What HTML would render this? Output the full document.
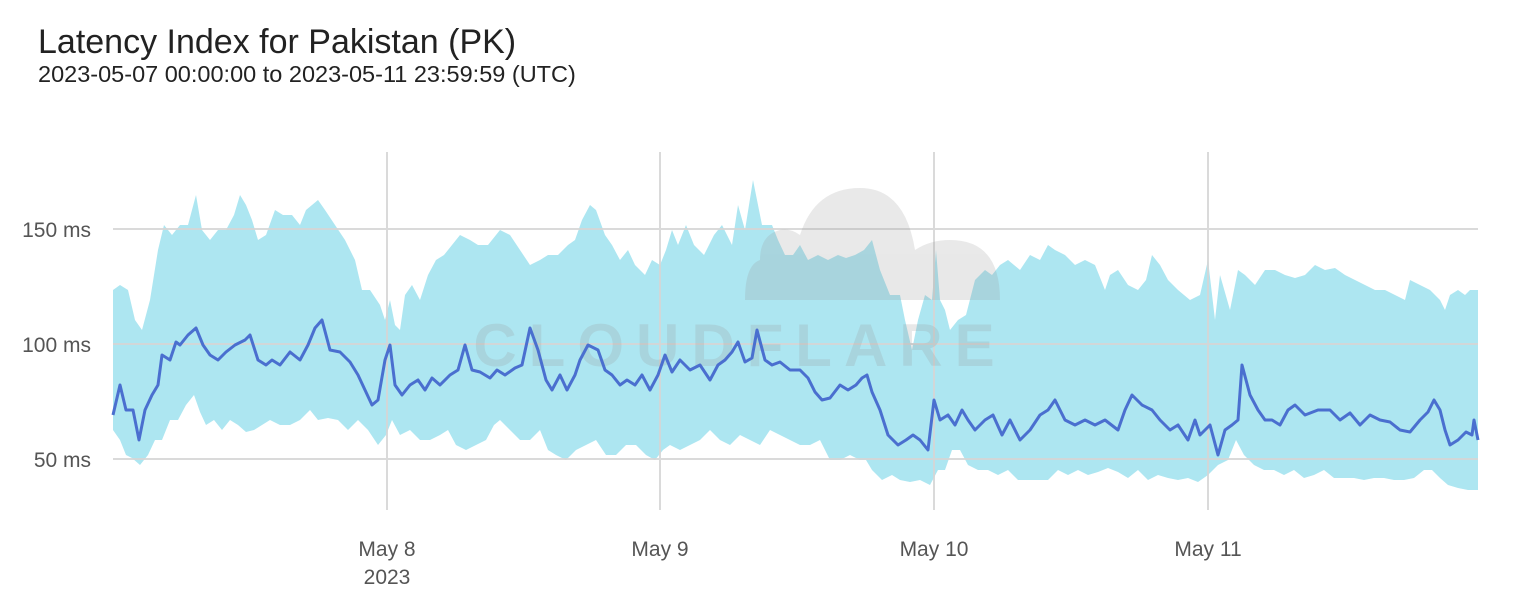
<!DOCTYPE html>
<html><head><style>
body{margin:0;background:#fff;font-family:"Liberation Sans",sans-serif;}
</style></head><body>
<svg width="1514" height="596" xmlns="http://www.w3.org/2000/svg" style="display:block">
<text x="38" y="53" font-size="34" fill="#222" font-family="Liberation Sans">Latency Index for Pakistan (PK)</text>
<text x="38" y="82" font-size="23.5" fill="#222" font-family="Liberation Sans">2023-05-07 00:00:00 to 2023-05-11 23:59:59 (UTC)</text>
<polygon fill="#ade6f1" points="113,290 120,285 128,290 135,320 142,330 150,300 158,250 164,225 172,235 180,225 188,225 196,195 202,230 210,240 218,230 226,230 234,215 240,195 246,205 252,220 258,240 266,235 275,210 283,215 292,215 300,225 306,210 312,205 318,200 325,210 335,225 345,240 355,260 362,290 370,290 380,305 385,320 390,300 395,325 400,330 405,295 412,285 420,300 428,275 436,260 444,255 452,245 460,235 470,240 478,245 488,245 500,230 510,235 520,250 530,265 540,260 548,255 558,255 568,245 575,240 582,220 590,205 596,210 605,235 612,245 620,260 628,250 635,265 645,275 652,260 660,265 666,250 672,230 678,245 686,225 694,245 704,255 714,235 722,225 732,245 738,205 745,230 753,180 762,225 772,225 778,240 785,255 793,255 800,245 808,260 818,255 828,260 838,255 846,258 855,255 864,250 872,240 880,270 890,295 900,295 905,320 912,350 918,320 925,295 932,300 936,250 940,300 945,310 950,330 958,320 966,315 975,280 985,270 992,275 1000,265 1008,260 1020,270 1030,255 1040,260 1048,245 1055,250 1065,255 1075,265 1085,260 1095,265 1105,290 1110,275 1118,270 1128,285 1138,290 1146,280 1152,255 1160,265 1168,280 1178,290 1190,300 1200,295 1208,260 1215,320 1220,275 1230,310 1238,270 1245,275 1255,285 1265,270 1275,270 1285,275 1295,278 1305,275 1315,265 1325,270 1335,268 1345,275 1355,280 1365,285 1375,290 1385,290 1395,295 1405,300 1410,280 1420,285 1430,290 1440,300 1445,310 1450,295 1458,290 1465,295 1470,290 1478,290 1478,490 1468,490 1458,488 1448,485 1440,478 1432,470 1424,470 1414,478 1404,480 1394,480 1384,478 1374,478 1364,480 1354,478 1344,478 1334,478 1324,470 1314,475 1304,478 1294,470 1284,475 1274,470 1264,470 1254,465 1244,455 1236,440 1228,460 1218,465 1208,475 1198,482 1188,478 1178,480 1168,478 1158,475 1148,480 1138,470 1128,478 1118,472 1108,468 1098,472 1088,475 1078,470 1068,475 1058,470 1048,480 1038,480 1028,480 1018,480 1008,470 998,475 988,470 978,470 968,465 960,450 952,450 945,470 938,470 930,485 920,480 910,482 900,480 892,475 882,480 872,470 866,460 860,460 850,455 840,460 830,460 820,440 810,445 800,445 790,440 780,435 770,430 760,445 750,440 740,435 730,445 720,440 710,430 700,440 690,445 680,450 670,445 663,450 655,460 646,455 636,445 626,445 616,455 606,455 596,440 586,445 576,450 566,460 556,455 548,450 540,430 530,440 520,440 510,430 500,420 494,425 486,440 476,445 466,450 456,445 448,430 440,435 430,440 420,440 410,430 400,435 392,420 386,435 378,445 368,430 358,420 348,430 338,420 328,418 318,420 310,410 300,420 290,425 280,425 270,420 262,425 254,430 246,432 238,425 230,420 222,430 214,420 206,425 200,412 194,395 186,405 178,420 170,420 162,440 155,440 148,455 140,465 132,458 126,455 120,440 113,430"/>
<g stroke="#d6d6d6" stroke-width="2" opacity="0.9">
<line x1="113" y1="229" x2="1478" y2="229"/><line x1="113" y1="344" x2="1478" y2="344"/><line x1="113" y1="459" x2="1478" y2="459"/>
<line x1="387" y1="152" x2="387" y2="510"/><line x1="660" y1="152" x2="660" y2="510"/><line x1="934" y1="152" x2="934" y2="510"/><line x1="1208" y1="152" x2="1208" y2="510"/>
</g>
<g fill="#999" opacity="0.22">
<path d="M745,300 L1000,300 Q1000,240 950,240 Q930,240 915,250 Q905,188 860,188 Q815,188 800,235 Q790,228 780,230 Q760,235 760,260 Q745,265 745,300 Z"/>
<text x="740" y="366" font-size="60" font-weight="bold" text-anchor="middle" letter-spacing="12" font-family="Liberation Sans">CLOUDFLARE</text>
</g>
<polyline fill="none" stroke="#4a6fcf" stroke-width="3" stroke-linejoin="round" points="113,415 120,385 126,410 133,410 139,440 145,410 152,395 158,385 162,355 170,360 176,342 180,345 188,335 196,328 203,345 210,355 218,360 226,352 235,345 245,340 250,335 258,360 266,365 272,360 280,365 290,352 300,360 308,345 315,328 322,320 330,350 340,352 350,362 358,375 365,390 372,405 378,400 385,360 390,345 395,385 402,395 410,385 418,380 425,390 432,378 440,385 450,375 458,370 465,345 472,370 480,372 490,378 497,370 505,375 515,368 522,365 530,328 538,350 546,380 552,390 560,375 567,390 575,375 580,360 588,345 598,350 605,370 612,375 620,385 627,380 635,385 642,375 650,390 658,375 665,355 672,372 680,360 690,370 700,365 710,380 718,365 725,360 732,352 738,342 745,362 752,358 757,330 765,360 772,365 780,362 790,370 800,370 808,378 815,392 822,400 830,398 840,385 848,390 856,385 862,378 867,375 872,392 880,410 888,435 898,445 906,440 913,435 920,440 928,450 934,400 940,420 948,415 955,425 962,410 968,420 975,430 985,420 993,415 1002,435 1010,420 1020,440 1030,430 1040,415 1048,410 1055,400 1065,420 1075,425 1085,420 1095,425 1105,420 1118,430 1125,410 1132,395 1142,405 1152,410 1160,420 1170,430 1178,425 1188,440 1195,420 1200,435 1210,425 1218,455 1225,430 1232,425 1238,420 1242,365 1250,395 1258,410 1265,420 1272,420 1280,425 1288,410 1295,405 1305,415 1318,410 1330,410 1340,420 1350,413 1360,425 1370,415 1380,420 1390,422 1400,430 1410,432 1420,420 1428,412 1434,400 1440,410 1445,430 1450,445 1458,440 1466,432 1472,435 1474,420 1478,440"/>
<g font-size="21" fill="#555" font-family="Liberation Sans">
<text x="91" y="237" text-anchor="end">150 ms</text>
<text x="91" y="352" text-anchor="end">100 ms</text>
<text x="91" y="467" text-anchor="end">50 ms</text>
<text x="387" y="556" text-anchor="middle">May 8</text>
<text x="387" y="584" text-anchor="middle">2023</text>
<text x="660" y="556" text-anchor="middle">May 9</text>
<text x="934" y="556" text-anchor="middle">May 10</text>
<text x="1208" y="556" text-anchor="middle">May 11</text>
</g>
</svg>
</body></html>
